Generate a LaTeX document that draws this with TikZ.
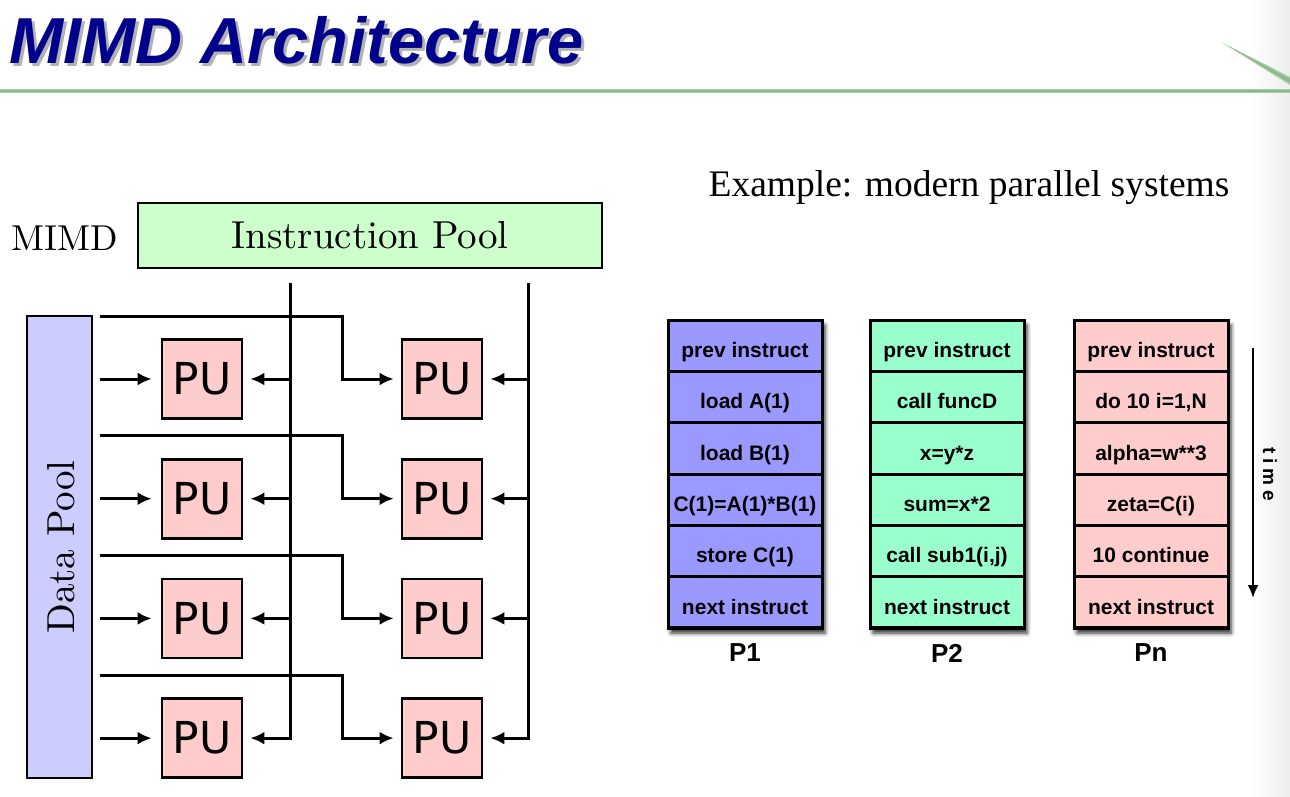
\documentclass[tikz,border=0pt]{standalone}
\usepackage{fontspec}
\newfontfamily\arialfont{Liberation Sans}
\newfontfamily\timesfont{Liberation Serif}
\newfontfamily\verafont{DejaVu Sans}
\newfontfamily\cmfont{lmroman10-regular.otf}
\newfontfamily\spacedfont[LetterSpace=25]{Liberation Sans}
\usetikzlibrary{arrows.meta,shadows.blur}

\definecolor{titleblue}{RGB}{0,0,140}
\definecolor{rulegreen}{RGB}{168,204,168}
\definecolor{rulegreendark}{RGB}{140,185,140}
\definecolor{poolgreen}{RGB}{204,255,204}
\definecolor{poolblue}{RGB}{204,204,255}
\definecolor{pupink}{RGB}{255,204,204}
\definecolor{cellblue}{RGB}{153,153,255}
\definecolor{cellgreen}{RGB}{153,255,204}
\definecolor{cellpink}{RGB}{255,204,204}

\tikzset{
  x=1pt, y=-1pt,
  pool/.style={draw, line width=2.8pt, inner sep=0pt,
    font=\cmfont\fontsize{39}{42}\selectfont},
  pubox/.style={draw, line width=2.8pt, fill=pupink, inner sep=0pt,
    minimum width=80pt, minimum height=79pt,
    font=\verafont\fontsize{44}{44}\selectfont},
  link/.style={line width=3pt},
  arr/.style={link, -{Latex[length=14pt,width=13pt]}},
  colframe/.style={draw, line width=3pt, minimum width=154pt,
    minimum height=308pt, inner sep=0pt,
    blur shadow={shadow xshift=3pt, shadow yshift=-5pt,
      shadow blur radius=4pt, shadow opacity=85}},
  cell/.style={draw, line width=3pt, minimum width=154pt,
    minimum height=51.33pt, inner sep=0pt, text height=23.6pt, text depth=0pt,
    font=\arialfont\bfseries\fontsize{21}{22}\selectfont},
  plabel/.style={font=\arialfont\bfseries\fontsize{26}{28}\selectfont},
}

\begin{document}
\begin{tikzpicture}
\useasboundingbox (0,0) rectangle (1290,796);

% faint page shade along the right edge
\shade[left color=white, right color=black!7] (1250,0) rectangle (1290,796);

% ---- heading with its shadow ----
\node[anchor=base west, inner sep=0pt, text=black!30,
  font=\arialfont\bfseries\itshape\fontsize{65}{65}\selectfont]
  (titleshadow) at (12,66) {MIMD Architecture};
\node[anchor=base west, inner sep=0pt, text=titleblue,
  font=\arialfont\bfseries\itshape\fontsize{65}{65}\selectfont]
  (title) at (9,63) {MIMD Architecture};

% green rule and the slanted stroke at the right
\draw[rulegreen, line width=4.5pt] (0,91) -- (1290,91);
\draw[rulegreendark, line width=1.5pt] (0,91) -- (1290,91);
\fill[rulegreen] (1221,42) -- (1290,77) -- (1290,85) -- cycle;
\fill[rulegreendark] (1230,47) -- (1290,79) -- (1290,83) -- cycle;

% ---- MIMD block diagram ----
\node[anchor=center, font=\cmfont\fontsize{36}{38}\selectfont] (mimd) at (65,238) {MIMD};
\node[pool, fill=poolgreen, minimum width=464pt, minimum height=65pt]
  (ipool) at (370,235.5) {Instruction Pool};
\node[pool, fill=poolblue, minimum width=65pt, minimum height=462pt]
  (dpool) at (59.5,547) {};
\node[rotate=90, font=\cmfont\fontsize{39}{42}\selectfont] (dpooltext) at (61,547) {Data Pool};

% processing units, rows 1..4, columns a (left) and b (right)
\foreach \r/\y in {1/379, 2/498.7, 3/618.4, 4/738.1} {
  \node[pubox] (pu\r a) at (202,\y) {PU};
  \node[pubox] (pu\r b) at (442,\y) {PU};
}

% instruction buses
\coordinate (busa) at (290,283);
\coordinate (busb) at (528,283);
\draw[link] (busa) -- ([yshift=-1.5pt]busa |- pu4a.center);
\draw[link] (busb) -- ([yshift=-1.5pt]busb |- pu4b.center);

% instruction feeds into each unit
\foreach \r in {1,2,3,4} {
  \draw[arr, shorten >=7pt] (busa |- pu\r a.center) -- (pu\r a.east);
  \draw[arr, shorten >=7pt] (busb |- pu\r b.center) -- (pu\r b.east);
}

% data feeds from the data pool
\foreach \r/\t in {1/316, 2/435.7, 3/555.4, 4/675.1} {
  \coordinate (ds\r) at (100,\t);
  \coordinate (dk\r) at (342,\t);
  \draw[arr, shorten >=9pt] (ds\r |- pu\r a.center) -- (pu\r a.west);
  \draw[arr, shorten >=7pt] (ds\r) -- (dk\r) -- (dk\r |- pu\r b.center) -- (pu\r b.west);
}

% ---- example on the right ----
\node[font=\timesfont\fontsize{37.5}{40}\selectfont] (example) at (969,188)
  {Example: modern parallel systems};

% processor P1
\node[colframe, fill=cellblue] (p1) at (745,474) {};
\foreach \k/\txt in {0/prev instruct, 1/load A(1), 2/load B(1),
    3/C(1)=A(1)*B(1), 4/store C(1), 5/next instruct}
  \node[cell, fill=cellblue] (p1c\k) at (745,{345.67+51.33*\k}) {\txt};
\node[plabel] (p1lab) at (745,653) {P1};

% processor P2
\node[colframe, fill=cellgreen] (p2) at (947,474) {};
\foreach \k/\txt in {0/prev instruct, 1/call funcD, 2/x=y*z,
    3/sum=x*2, 4/{call sub1(i,j)}, 5/next instruct}
  \node[cell, fill=cellgreen] (p2c\k) at (947,{345.67+51.33*\k}) {\txt};
\node[plabel] (p2lab) at (947,653) {P2};

% processor Pn
\node[colframe, fill=cellpink] (pn) at (1151,474) {};
\foreach \k/\txt in {0/prev instruct, 1/{do 10 i=1,N}, 2/alpha=w**3,
    3/zeta=C(i), 4/10 continue, 5/next instruct}
  \node[cell, fill=cellpink] (pnc\k) at (1151,{345.67+51.33*\k}) {\txt};
\node[plabel] (pnlab) at (1151,653) {Pn};

% time axis
\coordinate (t0) at (1253,348);
\coordinate (t1) at (1253,598);
\draw[line width=2.2pt, -{Latex[length=13pt,width=11pt]}] (t0) -- (t1);
\node[rotate=-90, font=\spacedfont\bfseries\fontsize{19}{20}\selectfont] (timelab) at (1270,474) {time};
\end{tikzpicture}
\end{document}
